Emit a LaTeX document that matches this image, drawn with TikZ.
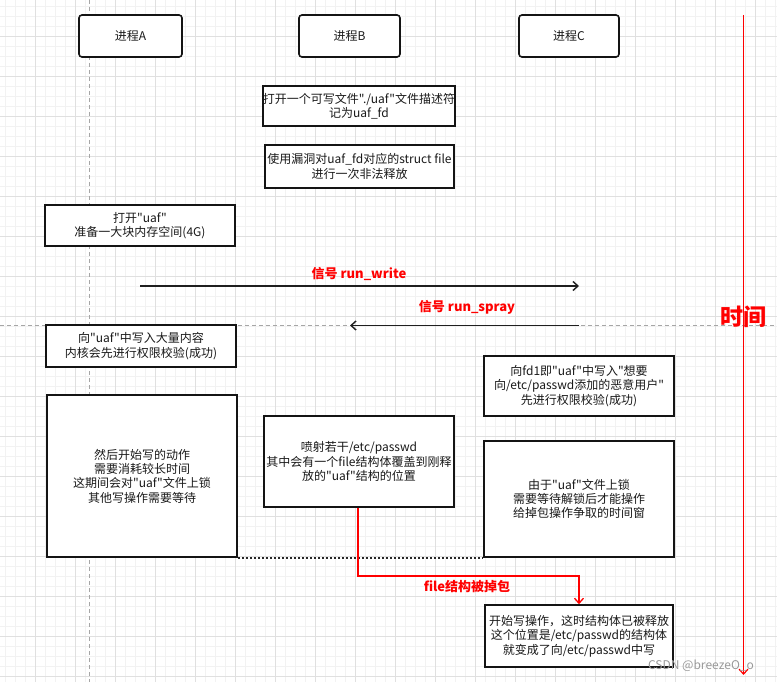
\documentclass[tikz,border=0pt]{standalone}
\usepackage{fontspec}
\newfontfamily\cjk{Noto Sans CJK SC}
\usetikzlibrary{arrows.meta}
\tikzset{
  box/.style={draw=black!92, line width=1.6pt, fill=white, align=center, inner sep=0pt,
    font=\cjk\fontsize{12}{14.4}\selectfont, text=black!90},
  proc/.style={box, rounded corners=3pt},
  minorgrid/.style={draw=black!5, line width=0.6pt},
  majorgrid/.style={draw=black!12, line width=0.6pt},
  guide/.style={draw=black!35, dashed, dash pattern=on 4pt off 3pt, line width=0.6pt},
  sig/.style={draw=black!88, line width=1.4pt, -{Straight Barb[length=5pt,width=9pt]}},
  redlbl/.style={text=red, font=\cjk\fontsize{13}{15}\selectfont\bfseries},
  redarrow/.style={draw=red, line width=1.3pt, -{Straight Barb[length=5pt,width=9pt]}},
}
\begin{document}
\begin{tikzpicture}[x=1pt,y=-1pt]
\useasboundingbox (0,0) rectangle (777,682);
\fill[white] (0,0) rectangle (777,682);
% grid
\foreach \i in {5,15,...,775} \draw[minorgrid] (\i,0) -- (\i,682);
\foreach \j in {6,16,...,676} \draw[minorgrid] (0,\j) -- (777,\j);
\foreach \i in {35,75,...,775} \draw[majorgrid] (\i,0) -- (\i,682);
\foreach \j in {36,76,...,676} \draw[majorgrid] (0,\j) -- (777,\j);
% guides
\coordinate (gv1) at (89,0);
\coordinate (gv2) at (89,682);
\coordinate (gh1) at (0,325.5);
\coordinate (gh2) at (777,325.5);
\draw[guide] (gv1) -- (gv2);
\draw[guide] (gh1) -- (gh2);
% process headers
\node[proc, minimum width=103pt, minimum height=42pt] (pA) at (130.5,36) {进程A};
\node[proc, minimum width=101pt, minimum height=42pt] (pB) at (349.5,36) {进程B};
\node[proc, minimum width=100pt, minimum height=42pt] (pC) at (569,36) {进程C};
% boxes
\node[box, minimum width=190pt, minimum height=40pt] (b1) at (359,106) {打开一个可写文件"./uaf"文件描述符\\记为uaf\_fd};
\node[box, minimum width=189pt, minimum height=43pt] (b2) at (359.5,166.5) {使用漏洞对uaf\_fd对应的struct file\\进行一次非法释放};
\node[box, minimum width=190pt, minimum height=41pt] (a1) at (140,225.5) {打开"uaf"\\准备一大块内存空间(4G)};
\node[box, minimum width=190pt, minimum height=42pt] (a2) at (141,346) {向"uaf"中写入大量内容\\内核会先进行权限校验(成功)};
\node[box, minimum width=190pt, minimum height=60pt] (c1) at (579,386) {向fd1即"uaf"中写入"想要\\向/etc/passwd添加的恶意用户"\\先进行权限校验(成功)};
\node[box, minimum width=190pt, minimum height=162pt] (a3) at (142,476) {然后开始写的动作\\需要消耗较长时间\\这期间会对"uaf"文件上锁\\其他写操作需要等待};
\node[box, minimum width=190pt, minimum height=91pt] (b3) at (359,461.5) {喷射若干/etc/passwd\\其中会有一个file结构体覆盖到刚释\\放的"uaf"结构的位置};
\node[box, minimum width=190pt, minimum height=116pt] (c2) at (579,499) {由于"uaf"文件上锁\\需要等待解锁后才能操作\\给掉包操作争取的时间窗};
\node[box, minimum width=188pt, minimum height=62pt] (c3) at (579,636) {开始写操作，这时结构体已被释放\\这个位置是/etc/passwd的结构体\\就变成了向/etc/passwd中写};
% signals
\coordinate (w1) at (140,286);
\coordinate (w2) at (579,286);
\coordinate (s1) at (579,325.5);
\coordinate (s2) at (350,325.5);
\draw[sig] (w1) -- (w2);
\draw[sig] (s1) -- (s2);
\node[redlbl] (lw) at (359,274) {信号 run\_write};
\node[redlbl] (ls) at (467,307) {信号 run\_spray};
% dotted wait
\draw[black!85, line width=2pt, dash pattern=on 2pt off 2pt] (a3.south east) -- (c2.south west);
% red swap
\draw[redarrow] (b3.south -| 358,0) -- (358,576) -- (579,576) -- (c3.north);
\node[redlbl] (lf) at (467,587) {file结构被掉包};
% time axis
\coordinate (t1) at (743.5,15);
\coordinate (t2) at (743.5,675);
\draw[redarrow, line width=1.2pt] (t1) -- (t2);
\node[text=red, font=\cjk\fontsize{23}{26}\selectfont\bfseries] (time) at (743,317) {时间};
% watermark
\node[text=black!40, font=\cjk\fontsize{12}{14}\selectfont] (wm) at (701,666) {CSDN @breezeO\_o};
\end{tikzpicture}
\end{document}
